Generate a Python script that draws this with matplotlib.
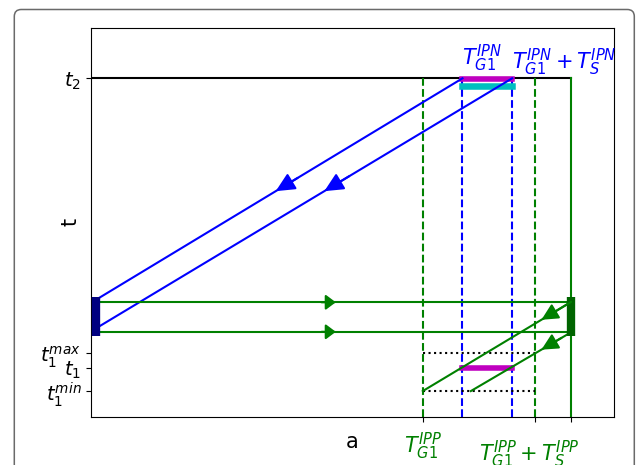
import numpy as np
import matplotlib
matplotlib.use('Agg')
import matplotlib.pyplot as plt
from matplotlib.patches import FancyBboxPatch
from matplotlib.transforms import IdentityTransform, blended_transform_factory

# ---- data (arbitrary units) ----
x_left = 0.9            # left terminal (navy bar)
x_right = 91.9          # right terminal (dark green bar)
T_G1_IPP = 63.5
T_G1_IPN = 71.1
T_G1_IPN_S = 80.6       # T_G1^IPN + T_S^IPN
T_G1_IPP_S = 84.9       # T_G1^IPP + T_S^IPP

t2 = 87.05
t1_max = 16.3
t1 = 12.5
t1_min = 6.55

bar_y = [20.8, 30.7]
green_h_y = [29.4, 21.8]
blue_start_y = [30.0, 22.65]
blue_end_x = [T_G1_IPN, T_G1_IPN_S]
green_diag_start_x = [T_G1_IPP, 72.7]
green_diag_end_y = [29.5, 21.7]
blue_arrow_y = 58.0
green_diag_arrow_x = 86.2

ytick_vals = [t1_min, t1, t1_max, t2]
ytick_labels = [r'$t_1^{min}$', r'$t_1$', r'$t_1^{max}$', r'$t_2$']
xtick_vals = [T_G1_IPP, T_G1_IPP_S, x_right]

# ---- figure ----
fig = plt.figure(figsize=(6.37, 4.65), dpi=100)
ax = fig.add_axes([91 / 637, 1 - 416.5 / 465, 522.5 / 637, 388.5 / 465])
ax.set_xlim(0, 100)
ax.set_ylim(0, 100)

frame = FancyBboxPatch((14.3, -30), 620, 465 - 9.5 + 30,
                       boxstyle='round,pad=0,rounding_size=7',
                       transform=IdentityTransform(), fill=False,
                       ec='#6a6a6a', lw=1.1, clip_on=False)
fig.add_artist(frame)

def arrow(x0, y0, x1, y1, frac, back, color, hl, hw):
    tx, ty = x0 + frac * (x1 - x0), y0 + frac * (y1 - y0)
    bx, by = x0 + (frac - back) * (x1 - x0), y0 + (frac - back) * (y1 - y0)
    ax.annotate('', xy=(tx, ty), xytext=(bx, by),
                arrowprops=dict(arrowstyle=f'-|>,head_length={hl},head_width={hw}',
                                mutation_scale=10, color=color, lw=1.5,
                                shrinkA=0, shrinkB=0), zorder=4)

# t2 line
ax.plot([0, x_right], [t2, t2], color='k', lw=1.5, zorder=2)

# vertical reference lines
for xv in [T_G1_IPP, T_G1_IPP_S]:
    ax.plot([xv, xv], [0, t2], color='g', ls='--', lw=1.5, zorder=2)
for xv in [T_G1_IPN, T_G1_IPN_S]:
    ax.plot([xv, xv], [0, t2], color='b', ls='--', lw=1.5, zorder=2)
ax.plot([x_right, x_right], [0, t2], color='g', lw=1.5, zorder=2)

# dotted t1 limits
for yv in [t1_max, t1_min]:
    ax.plot([T_G1_IPP, T_G1_IPP_S], [yv, yv], color='k', ls=':', lw=1.5, zorder=2)

# highlight bars
ax.plot([T_G1_IPN, T_G1_IPN_S], [t2 - 1.9, t2 - 1.9], color='c', lw=4.7, zorder=2.5)
ax.plot([T_G1_IPN, T_G1_IPN_S], [t2 - 0.3, t2 - 0.3], color='m', lw=4.0, zorder=2.6)
ax.plot([T_G1_IPN, T_G1_IPN_S], [t1, t1], color='m', lw=4.0, zorder=2.6)

# blue lines (down-left arrows)
for ys, xe in zip(blue_start_y, blue_end_x):
    ax.plot([x_left, xe], [ys, t2], color='b', lw=1.5, zorder=2.8)
    frac = (t2 - blue_arrow_y) / (t2 - ys)
    arrow(xe, t2, x_left, ys, frac, 0.06, 'b', 1.15, 0.55)

# green horizontal lines (right arrows)
for yh in green_h_y:
    ax.plot([x_left, x_right], [yh, yh], color='g', lw=1.5, zorder=3)
    arrow(x_left, yh, x_right, yh, 0.505, 0.03, 'g', 0.6, 0.45)

# green diagonals (down-left arrows)
for xs, ye in zip(green_diag_start_x, green_diag_end_y):
    ax.plot([xs, x_right], [t1_min, ye], color='g', lw=1.5, zorder=3)
    frac = (x_right - green_diag_arrow_x) / (x_right - xs)
    arrow(x_right, ye, xs, t1_min, frac, 0.2, 'g', 1.0, 0.5)

# terminal bars
ax.plot([x_left, x_left], bar_y, color='navy', lw=6, solid_capstyle='butt', zorder=3.5)
ax.plot([x_right, x_right], bar_y, color='darkgreen', lw=6, solid_capstyle='butt', zorder=3.5)

# ticks
ax.set_yticks(ytick_vals)
ax.set_yticklabels(ytick_labels, fontsize=14)
ax.set_xticks(xtick_vals)
ax.set_xticklabels(['', '', ''])

# axis labels
ax.set_xlabel('a', fontsize=15)
ax.xaxis.label.set_va('baseline')
ax.xaxis.set_label_coords(0.5, -0.081)
ax.set_ylabel('t', fontsize=15)
ax.yaxis.set_label_coords(-0.02, 0.5)

# texts
trb = blended_transform_factory(ax.transData, ax.transAxes)
ax.text(T_G1_IPP, -0.095, r'$T^{IPP}_{G1}$', color='g', fontsize=15,
        ha='center', va='baseline', transform=trb)
ax.text(T_G1_IPP_S - 1.0, -0.116, r'$T^{IPP}_{G1} + T^{IPP}_{S}$', color='g',
        fontsize=15, ha='center', va='baseline', transform=trb)
ax.text(T_G1_IPN, 90.5, r'$T^{IPN}_{G1}$', color='b', fontsize=15,
        ha='left', va='baseline')
ax.text(T_G1_IPN_S, 89.4, r'$T^{IPN}_{G1} + T^{IPN}_{S}$', color='b',
        fontsize=15, ha='left', va='baseline')

fig.savefig('out.png', dpi=100)
